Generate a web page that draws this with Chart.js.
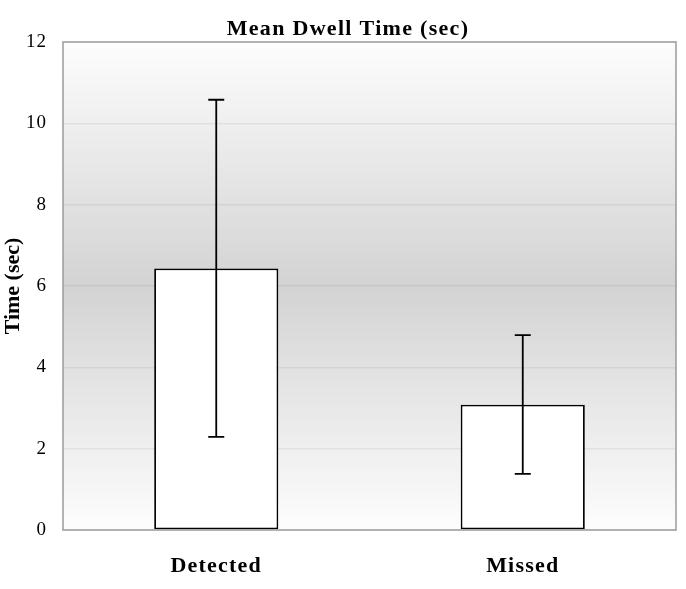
<!DOCTYPE html>
<html>
<head>
<meta charset="utf-8">
<script src="https://cdn.jsdelivr.net/npm/chart.js@4/dist/chart.umd.min.js"></script>
<style>
  html, body { margin: 0; padding: 0; background: #fff; }
  #wrap { width: 686px; height: 589px; }
</style>
</head>
<body>
<div id="wrap"><canvas id="dwellChart" width="686" height="589"></canvas></div>
<script>
const categories = ["Detected", "Missed"];
const meanTimes = [6.43, 3.08];
const errLow = [2.29, 1.38];
const errHigh = [10.58, 4.79];
const yTicks = [0, 2, 4, 6, 8, 10, 12];

const serif = "'Liberation Serif', 'Times New Roman', serif";

// gradient background and frame of the plot area
const plotBackground = {
  id: "plotBackground",
  beforeDraw(chart) {
    const { ctx, chartArea: a } = chart;
    const g = ctx.createLinearGradient(0, a.top, 0, a.bottom);
    g.addColorStop(0, "#fdfdfd");
    g.addColorStop(0.5, "#d3d3d3");
    g.addColorStop(1, "#fdfdfd");
    ctx.save();
    ctx.fillStyle = g;
    ctx.fillRect(a.left, a.top, a.right - a.left, a.bottom - a.top);
    ctx.restore();
  },
  afterDraw(chart) {
    const { ctx, chartArea: a } = chart;
    ctx.save();
    ctx.strokeStyle = "#9a9a9a";
    ctx.lineWidth = 1.5;
    ctx.strokeRect(a.left, a.top, a.right - a.left, a.bottom - a.top);
    ctx.restore();
  }
};

// the original text is a bit wide, so spread the letters a little
function withSpacing(obj, method, spacing, shiftX = 0) {
  const orig = obj[method];
  obj[method] = function (...args) {
    const ctx = this.ctx;
    ctx.save();
    ctx.letterSpacing = spacing;
    ctx.translate(shiftX, 0);
    orig.apply(this, args);
    ctx.restore();
  };
}

const letterSpacing = {
  id: "letterSpacing",
  afterLayout(chart) {
    if (chart._spaced) return;
    chart._spaced = true;
    withSpacing(chart.titleBlock, "draw", "1.3px", 10);
    withSpacing(chart.scales.x, "drawLabels", "1.2px");
    withSpacing(chart.scales.y, "drawLabels", "1px");
  }
};

// error bars drawn through the chart's scales
const errorBars = {
  id: "errorBars",
  afterDatasetsDraw(chart) {
    const { ctx } = chart;
    const y = chart.scales.y;
    const meta = chart.getDatasetMeta(0);
    ctx.save();
    ctx.strokeStyle = "#000";
    ctx.lineWidth = 1.8;
    meta.data.forEach((bar, i) => {
      const x = bar.x;
      const top = y.getPixelForValue(errHigh[i]);
      const bot = y.getPixelForValue(errLow[i]);
      const cap = 8;
      ctx.beginPath();
      ctx.moveTo(x, top); ctx.lineTo(x, bot);
      ctx.moveTo(x - cap, top); ctx.lineTo(x + cap, top);
      ctx.moveTo(x - cap, bot); ctx.lineTo(x + cap, bot);
      ctx.stroke();
    });
    ctx.restore();
  }
};

new Chart(document.getElementById("dwellChart"), {
  type: "bar",
  data: {
    labels: categories,
    datasets: [{
      data: meanTimes,
      backgroundColor: "#ffffff",
      borderColor: "#000000",
      borderWidth: 1.8,
      borderSkipped: false,
      barPercentage: 0.81,
      categoryPercentage: 0.5
    }]
  },
  options: {
    responsive: false,
    animation: false,
    devicePixelRatio: 1,
    layout: { padding: { right: 10, left: 0 } },
    plugins: {
      legend: { display: false },
      tooltip: { enabled: false },
      title: {
        display: true,
        text: "Mean Dwell Time (sec)",
        color: "#000",
        font: { family: serif, size: 22, weight: "bold", lineHeight: 1 },
        padding: { top: 18, bottom: 2 }
      }
    },
    scales: {
      x: {
        grid: { display: false },
        border: { display: false },
        ticks: {
          color: "#000",
          font: { family: serif, size: 22, weight: "bold" },
          padding: 15
        },
        afterFit: s => { s.height = 59; }
      },
      y: {
        min: 0,
        max: 12,
        afterBuildTicks: s => { s.ticks = yTicks.map(v => ({ value: v })); },
        grid: { color: "rgba(0,0,0,0.06)", lineWidth: 1.5, drawTicks: false },
        border: { display: false },
        ticks: {
          color: "#000",
          font: { family: serif, size: 19 },
          padding: 16
        },
        title: {
          display: true,
          text: "Time (sec)",
          color: "#000",
          font: { family: serif, size: 22, weight: "bold" },
          padding: { top: 0, bottom: 0 }
        },
        afterFit: s => { s.width = 63; }
      }
    }
  },
  plugins: [plotBackground, letterSpacing, errorBars]
});
</script>
</body>
</html>
